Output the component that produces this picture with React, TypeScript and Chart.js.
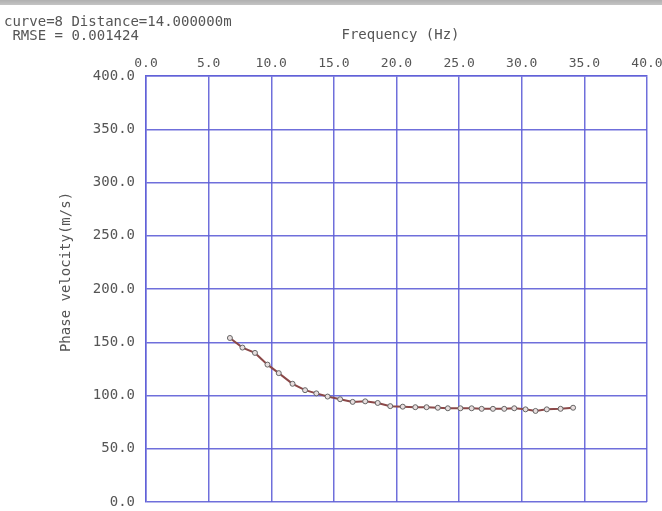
import React, { useEffect, useRef } from "react";
import { Chart, registerables } from "chart.js";

Chart.register(...registerables);

const frequencies = [6.7, 7.7, 8.7, 9.7, 10.6, 11.7, 12.7, 13.6, 14.5, 15.5, 16.5, 17.5, 18.5, 19.5, 20.5, 21.5, 22.4, 23.3, 24.1, 25.1, 26.0, 26.8, 27.7, 28.6, 29.4, 30.3, 31.1, 32.0, 33.1, 34.1];
const velocities = [154, 145, 140, 129, 121, 111, 105, 102, 99, 96.5, 94, 94.5, 93, 90, 89.5, 89, 89, 88.5, 88, 88, 88, 87.5, 87.5, 87.5, 88, 87, 85.5, 87, 87.5, 88.5];
const headerLines = ["curve=8 Distance=14.000000m", " RMSE = 0.001424"];
const xTitle = "Frequency (Hz)";
const yTitle = "Phase velocity(m/s)";

const FONT = "'DejaVu Sans Mono', 'Liberation Mono', monospace";
const GRID = "rgba(95,95,215,0.9)";
const TEXT = "#555555";

export default function App() {
  const ref = useRef<HTMLCanvasElement | null>(null);
  useEffect(() => {
    document.body.style.margin = "0";
    const canvas = ref.current;
    if (!canvas) return;
    const decor = {
      id: "decor",
      beforeDraw(chart: any) {
        const ctx = chart.ctx;
        ctx.save();
        ctx.fillStyle = "#ffffff";
        ctx.fillRect(0, 0, chart.width, chart.height);
        const g = ctx.createLinearGradient(0, 0, 0, 6);
        g.addColorStop(0, "#b0b0b0");
        g.addColorStop(1, "#c8c8c8");
        ctx.fillStyle = g;
        ctx.fillRect(0, 0, chart.width, 5);
        ctx.restore();
      },
      afterDraw(chart: any) {
        const ctx = chart.ctx;
        const a = chart.chartArea;
        ctx.save();
        ctx.fillStyle = TEXT;
        ctx.font = "14px " + FONT;
        ctx.textBaseline = "middle";
        ctx.textAlign = "left";
        ctx.fillText(headerLines[0], 4, 22);
        ctx.fillText(headerLines[1], 4, 36);
        ctx.textAlign = "center";
        ctx.fillText(xTitle, (a.left + a.right) / 2 + 4, 35);
        ctx.translate(66, (a.top + a.bottom) / 2 - 17);
        ctx.rotate(-Math.PI / 2);
        ctx.fillText(yTitle, 0, 0);
        ctx.restore();
      },
    };
    const chart = new Chart(canvas, {
      type: "line",
      data: {
        datasets: [
          {
            data: frequencies.map((f, i) => ({ x: f, y: velocities[i] })),
            borderColor: "#8b4848",
            borderWidth: 2,
            pointRadius: 2.5,
            pointBorderWidth: 1,
            pointBorderColor: "#666666",
            pointBackgroundColor: "#e8dede",
            tension: 0,
          },
        ],
      },
      options: {
        animation: false,
        responsive: false,
        maintainAspectRatio: false,
        layout: { padding: { left: 0, right: 15, top: 0, bottom: 9 } },
        plugins: { legend: { display: false }, tooltip: { enabled: false } },
        scales: {
          x: {
            type: "linear",
            position: "top",
            min: 0,
            max: 40,
            ticks: {
              stepSize: 5,
              color: TEXT,
              font: { family: FONT, size: 13 },
              padding: 5,
              maxRotation: 0,
              callback: (v: any) => Number(v).toFixed(1),
            },
            grid: { color: GRID, lineWidth: 1.5, drawTicks: false },
            border: { color: GRID, width: 1.5 },
            afterFit: (s: any) => {
              s.height = 76;
              s.paddingRight = 0;
              s.paddingLeft = 0;
            },
          },
          y: {
            type: "linear",
            min: 0,
            max: 400,
            ticks: {
              stepSize: 50,
              color: TEXT,
              font: { family: FONT, size: 14 },
              padding: 11,
              callback: (v: any) => Number(v).toFixed(1),
            },
            grid: { color: GRID, lineWidth: 1.5, drawTicks: false },
            border: { color: GRID, width: 1.5 },
            afterFit: (s: any) => {
              s.width = 146;
              s.paddingTop = 0;
              s.paddingBottom = 0;
            },
          },
        },
      },
      plugins: [decor],
    });
    return () => chart.destroy();
  }, []);
  return (
    <div style={{ position: "absolute", left: 0, top: 0, width: 662, height: 511 }}>
      <canvas ref={ref} width={662} height={511} style={{ display: "block", width: 662, height: 511 }} />
    </div>
  );
}
